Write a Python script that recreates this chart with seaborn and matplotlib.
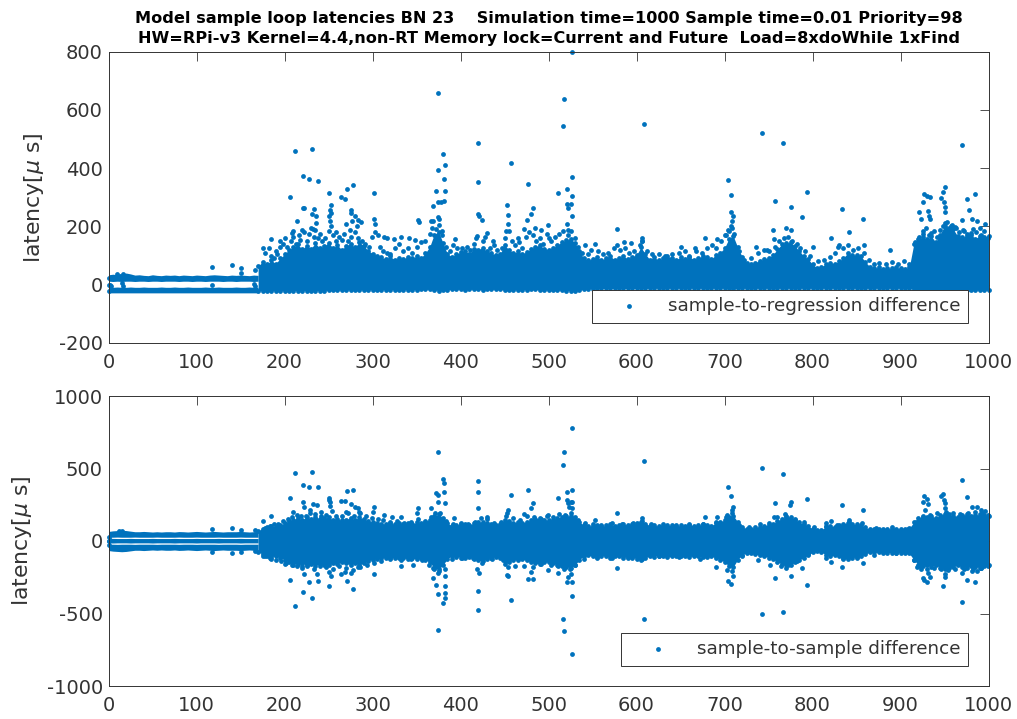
import numpy as np
import seaborn as sns
import matplotlib.pyplot as plt

band_x = np.arange(170, 1005, 5)

reg_top = [64, 78, 70, 84, 72, 90,
           104, 120, 128, 138, 122, 134, 124, 142, 126, 132,
           144, 126, 136, 120, 134, 140, 128, 146, 134, 116,
           107, 100, 94, 88, 97, 86, 92, 88, 96, 90,
           98, 92, 108, 130, 172, 182, 144, 106, 96, 104,
           112, 116, 106, 124, 120, 126, 114, 108, 102, 106,
           136, 120, 108, 114, 106, 112, 122, 130, 136, 124,
           120, 126, 136, 146, 152, 158, 144, 116, 90, 84,
           88, 96, 84, 92, 98, 86, 92, 98, 88, 96,
           102, 128, 106, 86, 94, 84, 90, 98, 92, 86,
           94, 88, 96, 86, 92, 98, 94, 88, 102, 110,
           126, 158, 166, 128, 96, 76, 70, 76, 82, 88,
           92, 102, 122, 138, 142, 146, 132, 116, 98, 88,
           70, 58, 62, 70, 76, 72, 80, 92, 108, 102,
           102, 98, 78, 62, 56, 60, 54, 58, 56, 60,
           56, 54, 60, 138, 158, 162, 156, 166, 146, 172,
           202, 196, 190, 166, 162, 168, 172, 158, 168, 162, 168]
reg_bottom = [-21, -21, -21, -21, -21, -21,
              -21, -20, -20, -20, -20, -20, -20, -20, -20, -20,
              -19, -19, -19, -18, -18, -18, -18, -18, -18, -18,
              -17, -17, -18, -17, -17, -17, -18, -17, -17, -17,
              -17, -16, -16, -16, -18, -20, -19, -17, -16, -16,
              -16, -17, -16, -16, -16, -18, -16, -16, -16, -16,
              -18, -19, -18, -18, -17, -17, -16, -16, -18, -18,
              -19, -19, -19, -19, -20, -20, -20, -19, -16, -14,
              -14, -13, -13, -13, -13, -13, -13, -13, -13, -13,
              -13, -13, -13, -12, -12, -12, -12, -12, -12, -12,
              -12, -12, -12, -12, -12, -12, -12, -12, -12, -12,
              -12, -13, -14, -13, -12, -12, -12, -12, -12, -12,
              -12, -12, -12, -12, -12, -12, -12, -12, -12, -12,
              -12, -12, -12, -12, -12, -12, -12, -12, -12, -12,
              -12, -12, -12, -12, -12, -12, -12, -12, -12, -12,
              -12, -12, -12, -16, -18, -18, -18, -18, -18, -19,
              -19, -19, -19, -19, -19, -19, -19, -19, -19, -19, -19]

quiet_x = np.arange(0, 175, 5)
reg_quiet_high = [34, 36, 34, 37, 40, 37, 33, 34, 32, 31, 34, 32, 31, 33, 32, 33, 31, 33,
                  32, 31, 33, 32, 31, 33, 34, 33, 32, 31, 33, 32, 33, 32, 31, 33, 32]
reg_quiet_gap = [12, 11, 12, 11, 12, 12, 11, 12, 12, 11, 12, 12, 11, 12, 12, 12, 11, 12,
                 12, 11, 12, 12, 11, 12, 12, 12, 11, 12, 12, 11, 12, 12, 12, 11, 12]
reg_quiet_low = [-9, -9, -8, -9, -9, -8, -9, -9, -8, -9, -9, -9, -8, -9, -9, -8, -9, -9,
                 -8, -9, -9, -9, -8, -9, -9, -8, -9, -9, -9, -8, -9, -9, -8, -9, -9]
reg_quiet_base = [-28, -28, -28, -28, -28, -28, -28, -28, -28, -28, -28, -28, -28, -28, -28, -28, -28, -28,
                  -28, -28, -28, -28, -28, -28, -28, -28, -28, -28, -28, -28, -28, -28, -28, -28, -28]

reg_x = [374, 420, 380, 382, 374, 381, 420, 457, 212, 231, 221, 228, 238, 278, 271, 251, 302, 206,
         264, 269, 372, 382, 477, 453, 482, 374, 369, 381, 378, 221, 222, 233, 231, 236, 253, 252,
         253, 250, 275, 275, 420, 421, 424, 454, 454, 480, 476, 499, 352, 353, 374, 375, 214, 302,
         303, 280, 284, 287, 270, 277, 282, 274, 236, 235, 230, 220, 210, 208, 252, 253, 259, 369,
         366, 379, 313, 316, 324, 332, 341, 348, 185, 195, 201, 175, 118, 140, 150, 150, 166, 394,
         430, 419, 472, 485, 491, 500, 437, 452, 465,
         527, 517.5, 516, 608, 743, 766, 970, 527, 704, 707, 511, 520.5, 527, 521, 525, 522, 527,
         521, 522, 794, 757, 775, 788, 833, 857, 841, 888, 578, 755, 770, 776, 756, 707, 710, 709,
         707, 704, 678, 692, 701, 821, 830, 858, 606, 606, 553, 541, 586, 594, 578, 651, 667, 736,
         748, 800, 927, 925, 934, 930, 950, 948, 946, 949, 950, 951, 921, 923, 931, 932, 934, 975,
         985, 978, 970, 981, 987, 996, 925, 929, 935, 945, 951, 957, 962, 971, 980, 990]
reg_y = [657, 486, 449, 411, 394, 363, 353, 417, 460, 464, 373, 363, 355, 343, 330, 313, 314, 302,
         300, 293, 321, 323, 346, 275, 262, 282, 269, 286, 285, 264, 262, 259, 241, 234, 273, 257,
         246, 234, 255, 246, 243, 234, 221, 239, 209, 241, 221, 206, 223, 214, 232, 225, 218, 226,
         209, 234, 223, 214, 209, 217, 200, 189, 211, 189, 194, 189, 183, 177, 217, 200, 180, 217,
         217, 183, 163, 160, 158, 162, 161, 154, 157, 151, 160, 125, 61, 67, 57, 40, 51, 157,
         177, 168, 191, 194, 189, 160, 149, 183, 160,
         797, 637, 545, 550, 519, 486, 478, 370, 359, 307, 315, 329, 304, 278, 278, 263, 234,
         209, 189, 317, 287, 267, 233, 259, 225, 182, 118, 190, 187, 193, 186, 158, 251, 234, 217,
         200, 189, 161, 157, 171, 160, 137, 137, 160, 149, 139, 137, 145, 142, 137, 131, 126, 129,
         120, 129, 311, 285, 301, 303, 334, 317, 296, 285, 266, 251, 248, 225, 253, 234, 225, 295,
         310, 257, 223, 225, 217, 209, 183, 193, 177, 189, 211, 200, 198, 189, 177, 194]

# smaller speckle just above the dense part
reg_fringe_x = [0, 0, 0, 2, 3, 10, 13, 15, 16, 17, 118, 165, 166, 178, 182, 185, 188, 190, 192, 195, 198,
                203, 207, 210, 213, 216, 218, 222, 225, 228, 232, 234, 238, 240, 243, 246, 250,
                255, 258, 262, 265, 268, 272, 276, 280, 284, 288, 292, 296, 299, 303, 306,
                308, 312, 316, 320, 325, 330, 335, 340, 345, 350, 355, 360, 365, 368, 372, 376,
                379, 384, 388, 392, 396, 402, 407, 411, 415, 418, 425, 428, 433, 438, 442, 447,
                451, 455, 459, 462, 466, 470, 474, 478, 482, 486, 490, 494, 498, 503, 507, 512,
                516, 522, 526, 530, 534, 538, 545, 548, 556, 562, 568, 574, 581, 587, 592, 597,
                604, 606, 612, 618, 625, 632, 640, 648, 655, 660, 668, 674, 680, 686, 690, 696,
                702, 705, 708, 711, 716, 722, 730, 738, 745, 750, 757, 762, 768, 772, 777, 782,
                786, 791, 797, 806, 813, 820, 826, 829, 835, 840, 846, 852, 858, 864, 870, 876,
                883, 890, 897, 904, 910, 917, 921, 926, 932, 938, 942, 948, 953, 958, 963, 967,
                972, 976, 982, 986, 991, 995, 999]
reg_fringe_y = [-22, 22, 0, 0, -5, 38, 30, 5, -3, 36, -1, 2, -3, 110, 125, 100, 90, 115, 105, 130, 140,
                130, 150, 165, 140, 170, 155, 180, 150, 175, 190, 165, 160, 175, 150, 160, 185,
                170, 150, 165, 155, 175, 150, 165, 180, 160, 150, 140, 130, 165, 180, 170,
                130, 115, 110, 105, 125, 140, 115, 125, 110, 130, 145, 150, 175, 195, 190, 205,
                170, 130, 115, 135, 125, 125, 130, 118, 140, 160, 150, 165, 125, 135, 120, 125,
                160, 185, 150, 135, 145, 125, 165, 180, 170, 150, 160, 140, 175, 150, 165, 175,
                185, 170, 185, 160, 130, 110, 105, 120, 115, 105, 110, 125, 120, 125, 110, 115,
                135, 150, 115, 105, 105, 100, 105, 110, 115, 100, 115, 110, 125, 135, 125, 150,
                170, 185, 195, 175, 115, 85, 90, 110, 120, 115, 130, 150, 160, 165, 150, 140,
                125, 115, 100, 80, 85, 95, 110, 130, 125, 135, 120, 125, 110, 85, 70, 75,
                72, 78, 70, 80, 72, 145, 165, 175, 170, 185, 165, 200, 215, 205, 195, 180,
                185, 175, 190, 180, 170, 185, 160]

diff_top = [69, 86, 96, 104, 98, 112,
            122, 138, 148, 160, 146, 164, 152, 168, 152, 158,
            164, 146, 154, 142, 148, 160, 146, 164, 152, 136,
            132, 126, 120, 116, 126, 114, 122, 116, 124, 118,
            128, 122, 132, 148, 174, 184, 162, 122, 106, 110,
            116, 120, 112, 122, 128, 134, 122, 116, 112, 118,
            148, 138, 126, 132, 124, 132, 144, 154, 158, 148,
            142, 148, 160, 164, 170, 174, 164, 132, 108, 102,
            106, 110, 102, 108, 114, 106, 108, 116, 110, 116,
            122, 134, 120, 106, 110, 102, 106, 110, 108, 102,
            108, 106, 110, 106, 108, 114, 110, 106, 122, 132,
            144, 168, 174, 132, 98, 84, 86, 94, 98, 104,
            110, 118, 138, 154, 164, 168, 148, 128, 118, 104,
            84, 74, 78, 94, 104, 98, 108, 118, 124, 116,
            114, 108, 94, 82, 84, 82, 86, 84, 84, 86,
            84, 86, 88, 128, 158, 168, 164, 174, 158, 178,
            188, 184, 174, 168, 178, 184, 174, 178, 184, 178, 174]
diff_bottom = [-74, -90, -100, -108, -104, -116,
               -128, -144, -154, -160, -154, -168, -158, -172, -158, -164,
               -168, -152, -158, -148, -154, -164, -154, -164, -154, -138,
               -128, -124, -118, -116, -120, -114, -118, -116, -124, -118,
               -124, -118, -128, -148, -184, -194, -168, -122, -104, -108,
               -114, -118, -110, -122, -134, -138, -122, -116, -110, -116,
               -158, -148, -128, -134, -124, -134, -144, -154, -158, -148,
               -144, -154, -164, -174, -178, -184, -168, -128, -106, -98,
               -104, -108, -100, -106, -114, -104, -106, -116, -108, -114,
               -122, -134, -116, -104, -108, -100, -104, -110, -106, -100,
               -106, -104, -108, -104, -106, -110, -108, -104, -118, -128,
               -144, -174, -178, -128, -94, -84, -84, -90, -98, -104,
               -114, -124, -144, -158, -168, -164, -148, -128, -116, -98,
               -78, -72, -76, -94, -104, -98, -106, -120, -126, -116,
               -110, -106, -90, -78, -78, -78, -84, -80, -80, -84,
               -80, -84, -86, -128, -164, -174, -168, -178, -164, -184,
               -194, -188, -178, -168, -178, -184, -174, -178, -184, -174, -168]

diff_quiet_top = [66, 70, 72, 74, 72, 68, 64, 64, 66, 64, 62, 64, 62, 64, 64, 62, 65, 64,
                  62, 64, 66, 64, 62, 64, 66, 64, 62, 64, 64, 64, 66, 64, 62, 64, 66]
diff_quiet_upper = [26, 26, 27, 26, 26, 26, 27, 26, 26, 26, 26, 27, 26, 26, 26, 26, 27, 26,
                    26, 26, 27, 26, 26, 26, 26, 27, 26, 26, 26, 26, 27, 26, 26, 26, 26]
diff_quiet_mid = [17, 18, 17, 17, 17, 18, 17, 17, 17, 17, 18, 17, 17, 17, 17, 18, 17, 17,
                  17, 17, 18, 17, 17, 17, 17, 18, 17, 17, 17, 17, 18, 17, 17, 17, 17]
diff_quiet_midlow = [-13, -14, -13, -13, -13, -14, -13, -13, -13, -13, -14, -13, -13, -13, -13, -14, -13, -13,
                     -13, -13, -14, -13, -13, -13, -13, -14, -13, -13, -13, -13, -14, -13, -13, -13, -13]
diff_quiet_lower = [-22, -22, -23, -22, -22, -22, -23, -22, -22, -22, -22, -23, -22, -22, -22, -22, -23, -22,
                    -22, -22, -23, -22, -22, -22, -22, -23, -22, -22, -22, -22, -23, -22, -22, -22, -22]
diff_quiet_bottom = [-66, -70, -72, -74, -72, -68, -64, -64, -66, -64, -62, -64, -62, -64, -64, -62, -65, -64,
                     -62, -64, -66, -64, -62, -64, -66, -64, -62, -64, -64, -64, -66, -64, -62, -64, -66]

diff_x = [374, 231, 212, 380, 420, 381, 221, 228, 238, 271, 278, 420, 477, 457, 206, 372, 374, 381,
          250, 250, 252, 252, 264, 269, 374, 382, 482, 221, 222, 232, 237, 229, 241, 276, 280, 284,
          285, 270, 302, 301, 352, 350, 367, 420, 454, 480, 472, 453, 313, 322, 332, 185, 176, 118,
          140, 150, 166, 210, 393, 499, 430,
          374, 231, 212, 420, 457, 420, 380, 382, 382, 374, 382, 372, 369, 221, 228, 238, 206, 251,
          271, 278, 302, 477, 482, 480, 499, 453, 454, 222, 237, 220, 250, 253, 264, 275, 269, 284,
          419, 421, 369, 374, 382, 332, 346, 175, 185, 201, 210, 118, 140, 150, 166,
          527, 517.5, 516, 608, 743, 766, 970, 704, 707, 527, 520.5, 511, 975, 794, 757, 775, 774,
          833, 857, 521, 522, 525, 527, 523, 527, 927, 925, 930, 931, 928, 948, 946, 949, 950, 951,
          981, 987, 992, 996, 710, 709, 703, 578, 756, 769, 678, 692, 821, 815, 841, 553, 606,
          527, 517.5, 516, 608, 743, 766, 970, 527, 794, 948, 985, 975, 704, 707, 757, 775, 925,
          927, 930, 933, 931, 950, 951, 521, 525, 527, 522, 511, 578, 788, 770, 833, 857, 821,
          919, 923, 970, 981, 987, 992, 710, 709]
diff_y = [616, 476, 469, 430, 411, 398, 389, 375, 375, 343, 352, 340, 349, 320, 299, 333, 320, 340,
          299, 283, 267, 244, 276, 276, 267, 264, 264, 267, 232, 255, 248, 214, 198, 255, 232, 225,
          202, 198, 234, 202, 225, 191, 230, 225, 214, 230, 184, 191, 179, 163, 168, 175, 138, 83,
          90, 78, 74, 198, 156, 179, 168,
          -616, -395, -448, -478, -405, -345, -425, -395, -361, -368, -313, -306, -257, -352, -285,
          -276, -267, -308, -278, -333, -230, -260, -260, -214, -200, -234, -241, -230, -225, -189,
          -212, -239, -225, -218, -212, -179, -193, -221, -189, -218, -239, -172, -166, -101, -124,
          -159, -166, -78, -85, -74, -67,
          779, 616, 524, 549, 506, 464, 421, 370, 313, 352, 340, 299, 301, 287, 264, 267, 248,
          246, 216, 283, 260, 271, 271, 237, 230, 310, 271, 290, 253, 214, 324, 313, 283, 260, 225,
          237, 232, 214, 207, 232, 214, 179, 193, 168, 184, 163, 166, 140, 126, 147, 145, 156,
          -779, -618, -540, -540, -503, -487, -421, -377, -306, -310, -285, -267, -274, -297, -257,
          -239, -257, -269, -285, -251, -218, -251, -228, -280, -230, -285, -246, -221, -189, -186,
          -184, -182, -152, -147, -177, -195, -223, -205, -205, -184, -239, -207]

diff_fringe_x = [0, 0, 0, 1, 2, 12, 15, 178, 183, 188, 193, 198, 204, 209, 214, 219, 224, 229, 235, 241, 247,
                 254, 259, 265, 272, 279, 286, 293, 299, 306, 312, 320, 328, 336, 344, 352, 360, 366,
                 371, 377, 384, 392, 400, 408, 416, 423, 430, 438, 446, 452, 460, 468, 475, 483, 491,
                 498, 505, 512, 519, 526, 533, 541, 550, 560, 572, 584, 596, 606, 616, 630, 645, 660,
                 675, 690, 702, 708, 716, 728, 740, 750, 760, 770, 780, 790, 802, 815, 828, 842, 856,
                 872, 890, 908, 918, 926, 934, 942, 952, 960, 968, 977, 985, 993, 999,
                 178, 184, 190, 196, 202, 208, 214, 220, 226, 233, 240, 247, 255, 262, 270, 278, 286,
                 294, 302, 310, 320, 332, 344, 356, 364, 370, 376, 382, 390, 402, 414, 424, 436, 448,
                 454, 462, 472, 482, 492, 503, 511, 518, 524, 530, 540, 555, 572, 590, 606, 625, 648,
                 672, 690, 703, 708, 720, 738, 752, 764, 772, 782, 795, 815, 835, 850, 870, 895, 915,
                 922, 930, 938, 946, 954, 962, 972, 982, 992, 999]
diff_fringe_y = [-30, 30, 0, 0, 8, 70, 66, 90, 105, 115, 120, 135, 150, 165, 180, 175, 170, 195, 185, 175, 180,
                 205, 175, 170, 190, 175, 195, 170, 160, 150, 145, 130, 135, 125, 130, 150, 140, 165,
                 195, 190, 135, 115, 125, 120, 130, 160, 150, 125, 130, 175, 160, 145, 170, 165, 150,
                 170, 165, 185, 180, 195, 145, 125, 120, 110, 125, 115, 125, 140, 115, 115, 110, 120,
                 115, 130, 165, 190, 110, 100, 120, 125, 165, 175, 155, 130, 95, 105, 110, 130, 125,
                 90, 95, 85, 130, 170, 180, 190, 200, 195, 185, 190, 200, 195, 180,
                 -100, -115, -130, -140, -155, -165, -175, -170, -170, -190, -175, -180, -195, -170,
                 -185, -200, -180, -165, -150, -135, -125, -130, -125, -130, -165, -195, -205, -190,
                 -125, -115, -120, -150, -125, -130, -180, -170, -170, -180, -160, -165, -175, -190,
                 -190, -165, -125, -115, -120, -115, -125, -105, -110, -125, -180, -200, -90, -105,
                 -130, -165, -175, -165, -135, -90, -115, -125, -120, -95, -85, -130, -170, -190,
                 -185, -195, -200, -190, -195, -190, -185, -175]

x_ticks = [0, 100, 200, 300, 400, 500, 600, 700, 800, 900, 1000]
reg_ticks = [-200, 0, 200, 400, 600, 800]
diff_ticks = [-1000, -500, 0, 500, 1000]

BLUE = "#0072BD"
DARK = "#333333"


def dots(ax, x, y, label=None):
    sns.scatterplot(x=x, y=y, s=12, color=BLUE, linewidth=0, ax=ax, clip_on=False, label=label)


def draw_panel(ax, x, y, top, bottom, quiet, yticks, ylim, label):
    ax.fill_between(band_x, bottom, top, color=BLUE, lw=0)
    for low, high in quiet:
        ax.fill_between(quiet_x, low, high, color=BLUE, lw=0)
    dots(ax, band_x, top)
    dots(ax, band_x, bottom)
    dots(ax, x, y, label=label)

    ax.set_xlim(0, 1000)
    ax.set_ylim(*ylim)
    ax.set_xticks(x_ticks)
    ax.set_yticks(yticks)
    ax.tick_params(direction="in", length=6.5, width=0.6, top=True, right=True,
                   labelsize=14, colors=DARK)
    ax.tick_params(axis="x", pad=7)
    ax.tick_params(axis="y", pad=4)
    ax.set_ylabel(r"latency[$\mu$ s]", fontsize=15.8, color=DARK, labelpad=9)
    for spine in ax.spines.values():
        spine.set_visible(True)
        spine.set_linewidth(0.7)
        spine.set_color(DARK)


sns.set_theme(style="white")
plt.rcParams["font.family"] = "DejaVu Sans"
plt.rcParams["mathtext.default"] = "it"
plt.rcParams["axes.unicode_minus"] = False

fig = plt.figure(figsize=(10.17, 7.19), dpi=100)
ax1 = fig.add_axes([108.5 / 1017, (719 - 343) / 719, 880 / 1017, 291.5 / 719])
ax2 = fig.add_axes([108.5 / 1017, (719 - 686) / 719, 880 / 1017, 290 / 719])

draw_panel(ax1, reg_x + reg_fringe_x, reg_y + reg_fringe_y, reg_top, reg_bottom,
           [(reg_quiet_gap, reg_quiet_high), (reg_quiet_base, reg_quiet_low)],
           reg_ticks, (-200, 800), "sample-to-regression difference")
draw_panel(ax2, diff_x + diff_fringe_x, diff_y + diff_fringe_y, diff_top, diff_bottom,
           [(diff_quiet_upper, diff_quiet_top), (diff_quiet_midlow, diff_quiet_mid),
            (diff_quiet_bottom, diff_quiet_lower)],
           diff_ticks, (-1000, 1000), "sample-to-sample difference")

ax1.set_title("Model sample loop latencies BN 23    Simulation time=1000 Sample time=0.01 Priority=98\n"
              "HW=RPi-v3 Kernel=4.4,non-RT Memory lock=Current and Future  Load=8xdoWhile 1xFind",
              fontsize=11.6, fontweight="bold", color="black", pad=6, linespacing=1.4)

for ax, anchor in [(ax1, (968, 323)), (ax2, (968, 666))]:
    leg = ax.legend(loc="lower right", bbox_to_anchor=(anchor[0] / 1017, (719 - anchor[1]) / 719),
                    bbox_transform=fig.transFigure, borderaxespad=0, fontsize=13.2, fancybox=False,
                    framealpha=1, edgecolor=DARK, handletextpad=0.5, borderpad=0.42,
                    handlelength=3.2, labelcolor=DARK)
    leg.get_frame().set_linewidth(0.7)

fig.savefig("out.png", dpi=100)
